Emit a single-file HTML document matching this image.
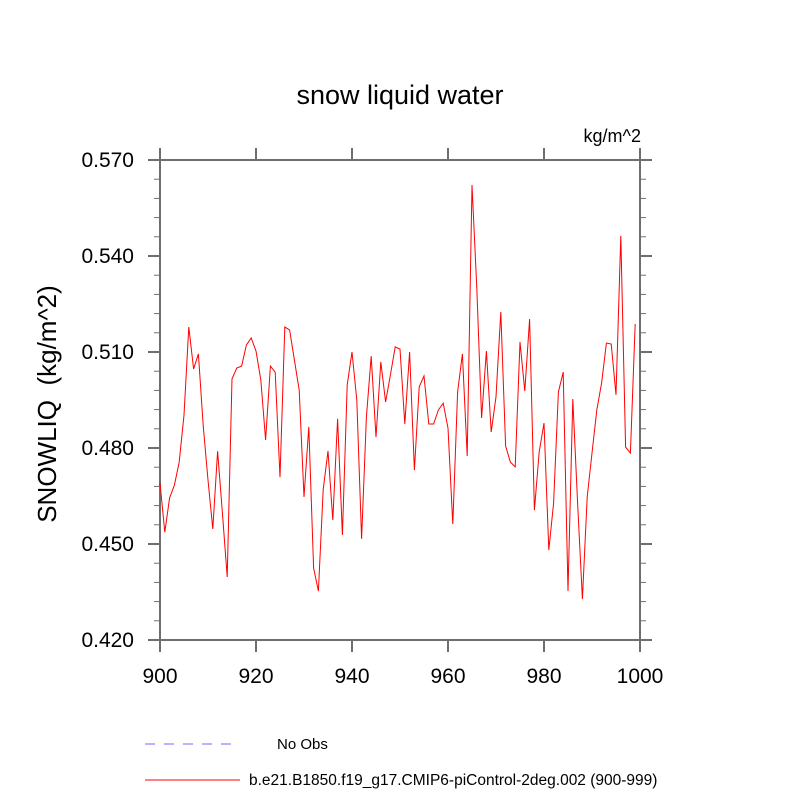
<!DOCTYPE html>
<html><head><meta charset="utf-8"><style>
body{margin:0;background:#fff;}
svg{display:block;font-family:"Liberation Sans",sans-serif;}
</style></head><body>
<svg id="chart" width="800" height="800" xmlns="http://www.w3.org/2000/svg">
<text x="400" y="104" font-size="27" text-anchor="middle">snow liquid water</text>
<text x="641" y="142" font-size="18" text-anchor="end">kg/m^2</text>
<text transform="translate(56,404) rotate(-90)" font-size="26" text-anchor="middle">SNOWLIQ&#160; (kg/m^2)</text>
<g id="axes"></g>
<g id="series"></g>
<line x1="145" y1="744" x2="240" y2="744" stroke="#6b6bff" stroke-width="1" stroke-dasharray="10,9"/>
<text x="277" y="749" font-size="15">No Obs</text>
<line x1="145" y1="780" x2="240" y2="780" stroke="#ff0000" stroke-width="1"/>
<text x="249" y="785" font-size="15.5">b.e21.B1850.f19_g17.CMIP6-piControl-2deg.002 (900-999)</text>
</svg>
<script>
const years = Array.from({length:100},(_,i)=>900+i);
const values = [0.4691,0.4537,0.4644,0.4684,0.4756,0.4903,0.5178,0.5047,0.5094,0.487,
0.470,0.4547,0.479,0.4597,0.4397,0.5016,0.505,0.5056,0.5122,0.5144,
0.5103,0.5013,0.4825,0.5056,0.5037,0.4709,0.5178,0.5169,0.5075,0.4981,
0.4647,0.4866,0.4425,0.4353,0.467,0.4791,0.4575,0.4891,0.4528,0.4997,
0.510,0.495,0.4516,0.4897,0.5087,0.4834,0.5069,0.4944,0.5028,0.5116,
0.5109,0.4875,0.510,0.4731,0.4991,0.5025,0.4875,0.4875,0.4919,0.494,
0.4862,0.4562,0.4975,0.5094,0.4775,0.5622,0.530,0.4894,0.5103,0.485,
0.496,0.5225,0.4806,0.4756,0.4741,0.5131,0.4978,0.5203,0.4606,0.4788,
0.4878,0.4481,0.4628,0.4975,0.5037,0.4353,0.4953,0.4628,0.4328,0.4647,
0.4784,0.4919,0.5003,0.5128,0.5125,0.4966,0.5463,0.4803,0.4784,0.5188];
const xTicks = [900,920,940,960,980,1000];
const yTicks = [0.42,0.45,0.48,0.51,0.54,0.57];
const yTickLabels = ["0.420","0.450","0.480","0.510","0.540","0.570"];
const L=160,R=640,T=160,B=640;
const xS=v=>L+(v-900)/100*(R-L);
const yS=v=>B-(v-0.42)/0.15*(B-T);
const NS="http://www.w3.org/2000/svg";
const ax=document.getElementById('axes');
const AC='#6e6e6e';
function ln(x1,y1,x2,y2,w,name){const e=document.createElementNS(NS,'line');
e.setAttribute('x1',x1);e.setAttribute('y1',y1);e.setAttribute('x2',x2);e.setAttribute('y2',y2);
e.setAttribute('stroke',AC);e.setAttribute('stroke-width',w);


ax.appendChild(e);return e;}
function tx(x,y,s,anchor,name){const e=document.createElementNS(NS,'text');
e.setAttribute('x',x);e.setAttribute('y',y);e.setAttribute('font-size','21');e.setAttribute('text-anchor',anchor);e.textContent=s;


ax.appendChild(e);}
const r=document.createElementNS(NS,'rect');
r.setAttribute('x',L);r.setAttribute('y',T);r.setAttribute('width',R-L);r.setAttribute('height',B-T);
r.setAttribute('fill','none');r.setAttribute('stroke',AC);r.setAttribute('stroke-width','2');


ax.appendChild(r);
xTicks.forEach(v=>{const x=xS(v);ln(x,B,x,B+12,2,'x-major-tick');ln(x,T,x,T-12,2,'x-major-tick');tx(x,683,String(v),'middle','x-tick-label');});
for(let k=0;k<=25;k++){const v=0.42+k*0.006;if(k%5===0)continue;const y=yS(v);ln(L,y,L-6,y,1,'y-minor-tick');ln(R,y,R+6,y,1,'y-minor-tick');}
yTicks.forEach((v,i)=>{const y=yS(v);ln(L,y,L-12,y,2,'y-major-tick');ln(R,y,R+12,y,2,'y-major-tick');tx(134,y+7,yTickLabels[i],'end','y-tick-label');});
const p=document.createElementNS(NS,'polyline');
p.setAttribute('points',years.map((y,i)=>xS(y)+','+yS(values[i])).join(' '));
p.setAttribute('fill','none');p.setAttribute('stroke','#ff0000');p.setAttribute('stroke-width','1');


document.getElementById('series').appendChild(p);
</script>
</body></html>
